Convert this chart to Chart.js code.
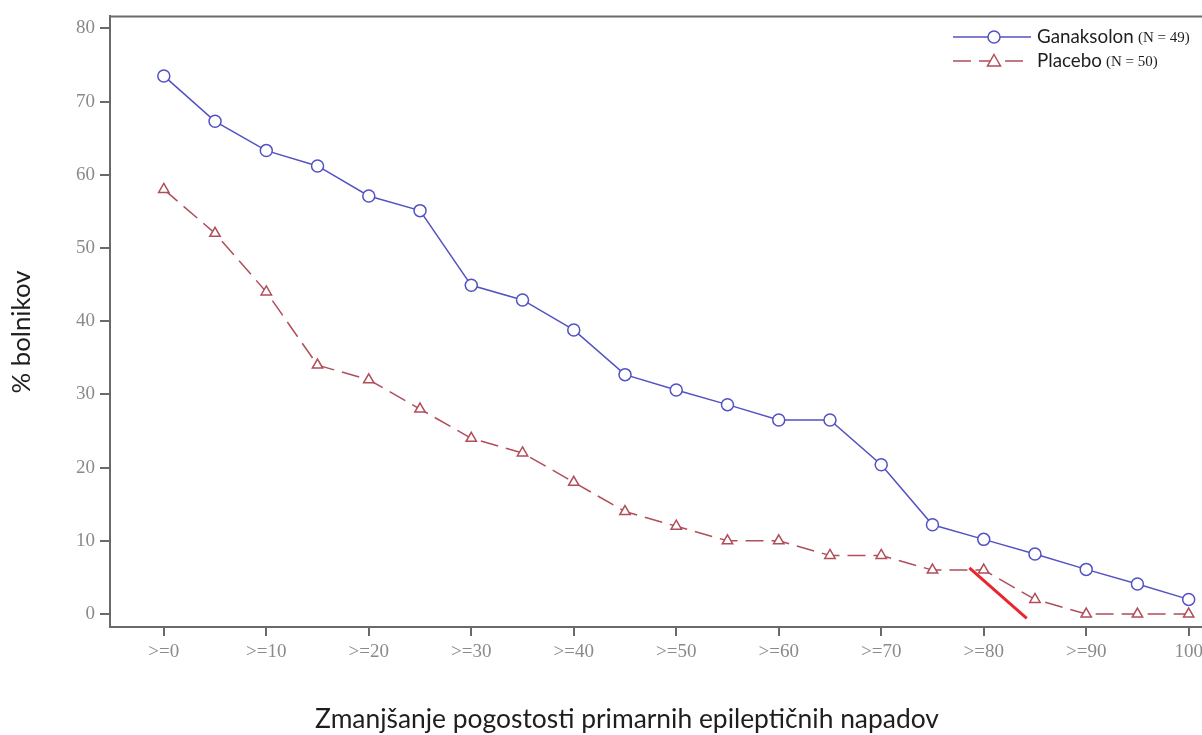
<!DOCTYPE html>
<html>
<head>
<meta charset="utf-8">
<script src="https://cdn.jsdelivr.net/npm/chart.js@4/dist/chart.umd.min.js"></script>
<style>
  html, body { margin: 0; padding: 0; background: #fff; overflow: hidden; }
  #wrap { width: 1250px; height: 735px; }
</style>
</head>
<body>
<div id="wrap"><canvas id="chart" width="1250" height="735"></canvas></div>
<script>
// thresholds (% reduction), one point every 5
const thresholds = [0, 5, 10, 15, 20, 25, 30, 35, 40, 45, 50, 55, 60, 65, 70, 75, 80, 85, 90, 95, 100];
const ganaksolon = [73.5, 67.3, 63.3, 61.2, 57.1, 55.1, 44.9, 42.9, 38.8, 32.7, 30.6, 28.6, 26.5, 26.5, 20.4, 12.2, 10.2, 8.2, 6.1, 4.1, 2.0];
const placebo = [58, 52, 44, 34, 32, 28, 24, 22, 18, 14, 12, 10, 10, 8, 8, 6, 6, 2, 0, 0, 0];
const xTicks = [0, 10, 20, 30, 40, 50, 60, 70, 80, 90, 100];
const xTickLabels = [">=0", ">=10", ">=20", ">=30", ">=40", ">=50", ">=60", ">=70", ">=80", ">=90", "100"];
const yTicks = [0, 10, 20, 30, 40, 50, 60, 70, 80];
// red hand-drawn stroke near >=80
const markX = [78.6, 84.2];
const markY = [6.3, -0.6];

const blue = "#5252c4";
const red = "#b04e5a";
const axisGray = "#6a6a6a";
const sans = "Lato";

// pick a font size so the text spans the given width
function fitFont(ctx, text, family, width) {
  ctx.font = "20px " + family;
  const size = 20 * width / ctx.measureText(text).width;
  ctx.font = size.toFixed(1) + "px " + family;
}

function pts(xs, ys) {
  return xs.map((x, i) => ({x: x, y: ys[i]}));
}

const framePlugin = {
  id: "frame",
  afterDraw(chart) {
    const ctx = chart.ctx;
    const a = chart.chartArea;
    ctx.save();
    ctx.strokeStyle = axisGray;
    ctx.lineWidth = 2;
    ctx.beginPath();
    ctx.moveTo(a.left, a.top);
    ctx.lineTo(a.right, a.top);
    ctx.lineTo(a.right, a.bottom);
    ctx.stroke();

    // axis titles
    ctx.fillStyle = "#1e1e1e";
    ctx.textAlign = "center";
    ctx.textBaseline = "middle";
    const xTitle = "Zmanjšanje pogostosti primarnih epileptičnih napadov";
    fitFont(ctx, xTitle, sans, 625);
    ctx.fillText(xTitle, 627, 719);
    ctx.translate(22, 332);
    ctx.rotate(-Math.PI / 2);
    fitFont(ctx, "% bolnikov", sans, 123);
    ctx.fillText("% bolnikov", 0, 0);
    ctx.restore();

    // legend
    ctx.save();
    const items = [
      {label: "Ganaksolon", w: 97, n: "(N = 49)", color: blue, dash: [], shape: "circle", y: 37},
      {label: "Placebo", w: 65, n: "(N = 50)", color: red, dash: [18, 8], shape: "triangle", y: 61}
    ];
    items.forEach(it => {
      ctx.strokeStyle = it.color;
      ctx.lineWidth = 1.5;
      ctx.setLineDash(it.dash);
      ctx.beginPath();
      ctx.moveTo(953, it.y);
      ctx.lineTo(1031, it.y);
      ctx.stroke();
      ctx.setLineDash([]);
      ctx.fillStyle = "#fff";
      ctx.beginPath();
      if (it.shape === "circle") {
        ctx.arc(994, it.y, 6, 0, Math.PI * 2);
      } else {
        ctx.moveTo(994, it.y - 6.5);
        ctx.lineTo(1000.5, it.y + 5);
        ctx.lineTo(987.5, it.y + 5);
        ctx.closePath();
      }
      ctx.fill();
      ctx.stroke();
      ctx.fillStyle = "#1e1e1e";
      ctx.textAlign = "left";
      ctx.textBaseline = "middle";
      fitFont(ctx, it.label, sans, it.w);
      ctx.fillText(it.label, 1037, it.y);
      ctx.font = "15px 'Liberation Serif'";
      ctx.fillText(it.n, 1037 + it.w + 4, it.y + 1);
    });
    ctx.restore();
  }
};

new Chart(document.getElementById("chart"), {
  type: "line",
  data: {
    datasets: [
      {
        label: "Ganaksolon",
        data: pts(thresholds, ganaksolon),
        borderColor: blue,
        borderWidth: 1.5,
        pointStyle: "circle",
        pointRadius: 6,
        pointBorderWidth: 1.5,
        pointBorderColor: blue,
        pointBackgroundColor: "#fff",
        tension: 0
      },
      {
        label: "Placebo",
        data: pts(thresholds, placebo),
        borderColor: red,
        borderWidth: 1.5,
        borderDash: [18, 8],
        pointStyle: "triangle",
        pointRadius: 6,
        pointBorderWidth: 1.5,
        pointBorderColor: red,
        pointBackgroundColor: "#fff",
        tension: 0
      },
      {
        label: "mark",
        data: pts(markX, markY),
        borderColor: "#e8262c",
        borderWidth: 3,
        pointRadius: 0
      }
    ]
  },
  options: {
    responsive: false,
    animation: false,
    layout: {padding: {left: 0, top: 14, right: 6, bottom: 0}},
    plugins: {legend: {display: false}, tooltip: {enabled: false}},
    scales: {
      x: {
        type: "linear",
        min: -5.25,
        max: 105.25,
        afterFit: s => { s.height = 108; },
        afterBuildTicks: s => { s.ticks = xTicks.map(v => ({value: v})); },
        border: {display: true, color: axisGray, width: 2},
        grid: {display: true, drawOnChartArea: false, drawTicks: true, tickLength: 9, color: axisGray, lineWidth: 2},
        ticks: {
          padding: 5,
          color: "#8a8a8a",
          font: {family: "'Liberation Serif'", size: 19},
          maxRotation: 0,
          autoSkip: false,
          callback: v => xTickLabels[xTicks.indexOf(v)]
        }
      },
      y: {
        min: -1.77,
        max: 81.63,
        afterFit: s => { s.width = 110; },
        afterBuildTicks: s => { s.ticks = yTicks.map(v => ({value: v})); },
        border: {display: true, color: axisGray, width: 2},
        grid: {display: true, drawOnChartArea: false, drawTicks: true, tickLength: 10, color: axisGray, lineWidth: 2},
        ticks: {
          padding: 5,
          color: "#8a8a8a",
          font: {family: "'Liberation Serif'", size: 19},
          autoSkip: false
        }
      }
    }
  },
  plugins: [framePlugin]
});
</script>
</body>
</html>
